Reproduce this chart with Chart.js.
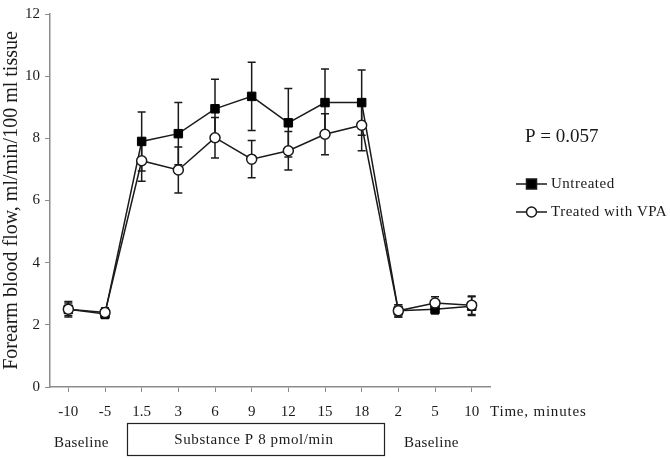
<!DOCTYPE html>
<html>
<head>
<meta charset="utf-8">
<script src="https://cdn.jsdelivr.net/npm/chart.js@4"></script>
<style>
  html, body { margin: 0; padding: 0; background: #fff; }
  #wrap { width: 670px; height: 460px; position: relative; }
</style>
</head>
<body>
<div id="wrap"><canvas id="flowChart"></canvas></div>
<script>
// Forearm blood flow during substance P infusion, untreated vs treated with VPA

const timeLabels = ['-10', '-5', '1.5', '3', '6', '9', '12', '15', '18', '2', '5', '10'];
const untreated = [2.5, 2.35, 7.9, 8.15, 8.95, 9.35, 8.5, 9.15, 9.15, 2.45, 2.5, 2.6];
const untreatedErr = [0.2, 0.15, 0.95, 1.0, 0.95, 1.1, 1.1, 1.08, 1.05, 0.2, 0.15, 0.3];
const treated = [2.5, 2.4, 7.28, 6.98, 8.02, 7.33, 7.6, 8.13, 8.42, 2.45, 2.7, 2.63];
const treatedErr = [0.25, 0.15, 0.66, 0.74, 0.65, 0.6, 0.62, 0.66, 0.82, 0.2, 0.2, 0.3];
const yTicks = [0, 2, 4, 6, 8, 10, 12];

const serif = '"Liberation Serif", "DejaVu Serif", serif';
const ink = '#1a1a1a';
const axisGrey = '#8c8c8c';

// error bars drawn under the markers
const errorBars = {
  id: 'errorBars',
  beforeDatasetsDraw(chart) {
    const { ctx, scales: { x, y } } = chart;
    ctx.save();
    ctx.strokeStyle = ink;
    ctx.lineWidth = 1.5;
    chart.data.datasets.forEach(ds => {
      ds.values.forEach((v, i) => {
        const px = x.getPixelForValue(i);
        const top = y.getPixelForValue(v + ds.err[i]);
        const bot = y.getPixelForValue(v - ds.err[i]);
        ctx.beginPath();
        ctx.moveTo(px, top); ctx.lineTo(px, bot);
        ctx.moveTo(px - 4, top); ctx.lineTo(px + 4, top);
        ctx.moveTo(px - 4, bot); ctx.lineTo(px + 4, bot);
        ctx.stroke();
      });
    });
    ctx.restore();
  }
};

// phase labels, box, axis caption, p value and legend
const annotations = {
  id: 'annotations',
  afterDraw(chart) {
    const { ctx, chartArea: area } = chart;
    ctx.save();
    ctx.fillStyle = ink;
    ctx.textBaseline = 'middle';
    ctx.font = '15px ' + serif;
    ctx.textAlign = 'left';
    ctx.letterSpacing = '0.8px';
    ctx.fillText('Time, minutes', area.right, area.bottom + 25);
    ctx.letterSpacing = '0.4px';
    ctx.fillText('Baseline', area.left + 4, area.bottom + 56);
    ctx.fillText('Baseline', area.right - 86, area.bottom + 56);
    // substance P box
    ctx.strokeStyle = '#222';
    ctx.lineWidth = 1.2;
    ctx.strokeRect(area.left + 77.5, area.bottom + 36.5, 257, 32);
    ctx.textAlign = 'center';
    ctx.letterSpacing = '0.6px';
    ctx.fillText('Substance P 8 pmol/min', area.left + 204, area.bottom + 53);
    // p value
    ctx.textAlign = 'left';
    ctx.letterSpacing = '0px';
    ctx.font = '19px ' + serif;
    ctx.fillText('P = 0.057', area.right + 35, 137);
    // legend
    ctx.font = '15px ' + serif;
    ctx.letterSpacing = '0.5px';
    chart.data.datasets.forEach((ds, i) => {
      const ly = 184 + i * 28;
      const lx = area.right + 26;
      ctx.strokeStyle = ink;
      ctx.lineWidth = 1.5;
      ctx.beginPath();
      ctx.moveTo(lx, ly); ctx.lineTo(lx + 31, ly);
      ctx.stroke();
      ctx.fillStyle = ds.pointBackgroundColor;
      ctx.beginPath();
      if (ds.pointStyle === 'rect') {
        ctx.rect(lx + 10.5, ly - 5, 10, 10);
      } else {
        ctx.arc(lx + 15.5, ly, 5, 0, Math.PI * 2);
      }
      ctx.fill();
      ctx.stroke();
      ctx.fillStyle = ink;
      ctx.fillText(ds.label, lx + 35, ly);
    });
    ctx.restore();
  }
};

new Chart(document.getElementById('flowChart'), {
  type: 'line',
  data: {
    labels: timeLabels,
    datasets: [
      {
        label: 'Untreated',
        data: untreated,
        values: untreated,
        err: untreatedErr,
        order: 1,
        borderColor: ink,
        borderWidth: 1.5,
        pointStyle: 'rect',
        pointRadius: 6,
        pointBackgroundColor: '#000',
        pointBorderColor: '#000',
        pointBorderWidth: 1,
        tension: 0,
      },
      {
        label: 'Treated with VPA',
        data: treated,
        values: treated,
        err: treatedErr,
        order: 0,
        borderColor: ink,
        borderWidth: 1.5,
        pointStyle: 'circle',
        pointRadius: 5,
        pointBackgroundColor: '#fff',
        pointBorderColor: ink,
        pointBorderWidth: 1.5,
        tension: 0,
      },
    ],
  },
  options: {
    responsive: true,
    maintainAspectRatio: false,
    animation: false,
    layout: { padding: { top: 10, right: 180, bottom: 0, left: 0 } },
    plugins: {
      legend: { display: false },
      tooltip: { enabled: false },
    },
    scales: {
      x: {
        offset: true,
        afterFit(scale) { scale.height = 73; },
        grid: {
          offset: false,
          drawOnChartArea: false,
          color: axisGrey,
          tickLength: 5,
        },
        border: { color: axisGrey, width: 1.5 },
        ticks: {
          color: ink,
          font: { family: serif, size: 15 },
          padding: 11,
          maxRotation: 0,
          autoSkip: false,
        },
      },
      y: {
        min: 0,
        max: 12,
        afterFit(scale) { scale.width = 50; },
        afterBuildTicks(scale) { scale.ticks = yTicks.map(v => ({ value: v })); },
        grid: {
          drawOnChartArea: false,
          color: axisGrey,
          tickLength: 5,
        },
        border: { color: axisGrey, width: 1.5 },
        ticks: {
          color: ink,
          font: { family: serif, size: 15 },
          padding: 5,
        },
        title: {
          display: true,
          text: 'Forearm blood flow, ml/min/100 ml tissue',
          color: ink,
          font: { family: serif, size: 20 },
          padding: { top: 0, bottom: 0 },
        },
      },
    },
  },
  plugins: [errorBars, annotations],
});
</script>
</body>
</html>
